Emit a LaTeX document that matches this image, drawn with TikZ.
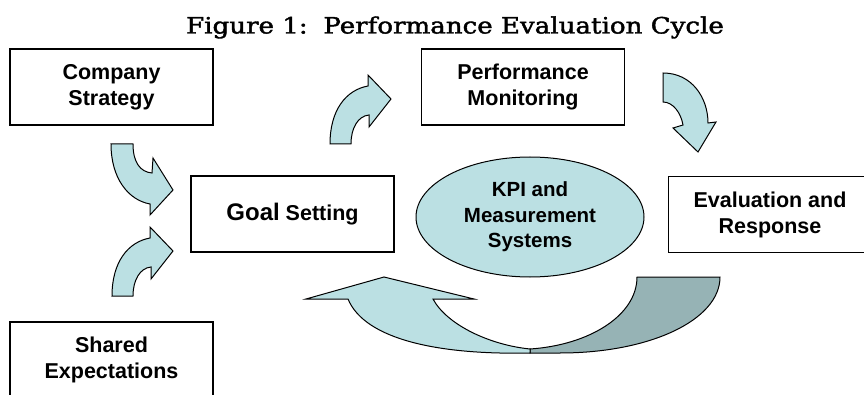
\documentclass[tikz,border=0pt]{standalone}
\usepackage{fontspec}
\usetikzlibrary{shapes.geometric}
\setmainfont{DejaVu Serif}
\newfontfamily\titlefont{DejaVu Serif}[FakeBold=1.6]
\setsansfont{Liberation Sans}
\definecolor{lightteal}{RGB}{187,224,227}
\definecolor{darkteal}{RGB}{150,179,181}
\begin{document}
\begin{tikzpicture}[x=1pt,y=-1pt,
  box/.style={draw=black, line width=1.3pt, fill=white, minimum width=203pt, minimum height=76pt,
    align=center, inner sep=0pt, font=\sffamily\bfseries\fontsize{21.5}{26}\selectfont},
  blk/.style={draw=black, line width=1pt, fill=lightteal, line join=miter},
  blkdark/.style={draw=black, line width=1pt, fill=darkteal, line join=miter},
  upcurve/.pic={
    \draw[blk] (112,296) -- (133,296) .. controls (133,280) and (140,268) .. (151,267)
      -- (151,279) -- (173,251) -- (150,227) -- (150,238)
      .. controls (128,242) and (112,262) .. (112,296) -- cycle;
  }
]
\path[use as bounding box] (0,0) rectangle (864,395);

% title
\node[anchor=base, inner sep=0pt, font=\titlefont\fontsize{22.5}{26}\selectfont] (title) at (455,33.5)
  {\scalebox{1.16}[1]{Figure 1:\hspace{0.6em}Performance Evaluation Cycle}};

% boxes
\node[box] (company) at (111.5,87) {Company\\Strategy};
\node[box] (perf) at (523,87) {Performance\\Monitoring};
\node[box] (goal) at (292.5,214) {{\fontsize{24}{26}\selectfont Goal} Setting};
\node[box] (eval) at (770,214.5) {Evaluation and\\Response};
\node[box] (shared) at (111.5,360) {Shared\\Expectations};
\node[ellipse, draw=black, line width=1pt, fill=lightteal, minimum width=228pt, minimum height=120pt,
  inner sep=0pt, align=center, font=\sffamily\bfseries\fontsize{20.5}{25.5}\selectfont]
  (kpi) at (530,217) {KPI and\\Measurement\\Systems};

% curved block arrows
\draw[blk] (111,144) -- (133,144) .. controls (133,162) and (140,172) .. (152,173)
  -- (153,158) -- (173,190) -- (150,215) -- (150,204)
  .. controls (128,200) and (111,178) .. (111,144) -- cycle;
\pic at (0,0) {upcurve};
\pic at (218,-152) {upcurve};
\draw[blk] (663,73) .. controls (692,73) and (708,98) .. (708,123)
  -- (716,122) -- (698,152) -- (673,128) -- (683,125)
  .. controls (681,113) and (673,102) .. (663,102) -- cycle;

% big return arrow
\draw[blkdark] (637,277) -- (720,277) .. controls (720,320) and (650,353) .. (560,353)
  -- (530,353) -- (530,349) .. controls (590,345) and (637,315) .. (637,277) -- cycle;
\draw[blk] (306,299) -- (384,277) -- (474,299) -- (433,299)
  .. controls (447,325) and (490,345) .. (530,349) -- (530,353)
  .. controls (440,355) and (365,340) .. (348,299) -- cycle;
\end{tikzpicture}
\end{document}
